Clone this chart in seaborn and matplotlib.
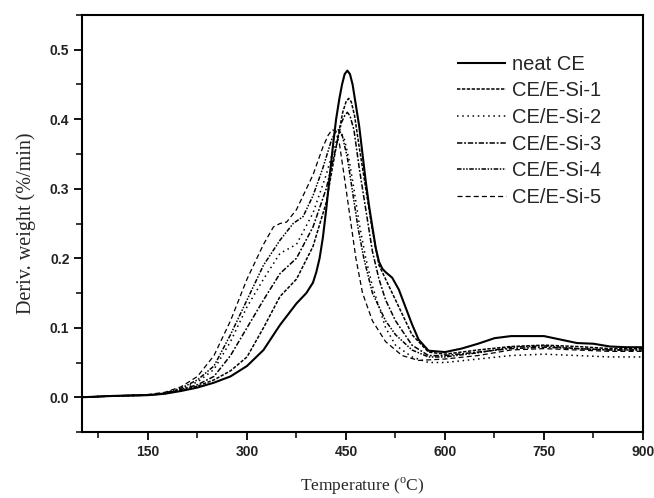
import matplotlib
matplotlib.use("Agg")
import matplotlib.pyplot as plt
import seaborn as sns
import pandas as pd
from matplotlib.ticker import MultipleLocator

sns.set_theme(style="ticks")
plt.rcParams['font.family'] = ['Liberation Sans', 'DejaVu Sans']

# ---- data ----
neat_T = [50, 100, 150, 175, 200, 225, 250, 275, 300, 325, 350, 375, 390, 400, 405, 410, 415, 420,
          425, 430, 435, 440, 444, 448, 452, 456, 460, 465, 470, 475, 480, 485, 490, 495, 500, 505,
          510, 520, 530, 540, 550, 560, 575, 600, 625, 650, 675, 700, 725, 750, 775, 800, 825, 850,
          875, 900]
neat_v = [0.0, 0.002, 0.003, 0.005, 0.009, 0.014, 0.021, 0.03, 0.045, 0.068, 0.104, 0.135, 0.15,
          0.165, 0.18, 0.2, 0.23, 0.27, 0.315, 0.36, 0.4, 0.43, 0.45, 0.465, 0.47, 0.465, 0.45, 0.42,
          0.39, 0.35, 0.31, 0.275, 0.245, 0.215, 0.195, 0.185, 0.18, 0.172, 0.155, 0.13, 0.105,
          0.083, 0.067, 0.065, 0.07, 0.077, 0.085, 0.088, 0.088, 0.088, 0.083, 0.078, 0.077, 0.073,
          0.072, 0.072]

si1_T = [50, 100, 150, 175, 200, 225, 250, 275, 300, 325, 350, 375, 400, 420, 435, 445, 450, 454,
         458, 463, 470, 480, 490, 500, 510, 525, 550, 575, 600, 650, 700, 750, 800, 850, 900]
si1_v = [0.0, 0.002, 0.003, 0.005, 0.01, 0.016, 0.025, 0.038, 0.058, 0.1, 0.145, 0.17, 0.217, 0.28,
         0.36, 0.41, 0.425, 0.43, 0.425, 0.405, 0.36, 0.3, 0.24, 0.19, 0.17, 0.14, 0.09, 0.065,
         0.062, 0.068, 0.073, 0.075, 0.073, 0.07, 0.07]

si2_T = [50, 100, 150, 175, 200, 225, 250, 275, 300, 325, 350, 375, 400, 420, 432, 438, 443, 448,
         455, 462, 470, 480, 490, 500, 510, 525, 550, 575, 600, 650, 700, 750, 800, 850, 900]
si2_v = [0.0, 0.002, 0.003, 0.006, 0.012, 0.022, 0.04, 0.08, 0.13, 0.17, 0.207, 0.22, 0.265, 0.32,
         0.36, 0.375, 0.378, 0.37, 0.34, 0.3, 0.25, 0.2, 0.16, 0.13, 0.1, 0.075, 0.058, 0.05, 0.05,
         0.055, 0.06, 0.062, 0.06, 0.058, 0.058]

si3_T = [50, 100, 150, 175, 200, 225, 250, 275, 300, 325, 350, 375, 400, 420, 435, 443, 448, 452,
         456, 462, 470, 480, 490, 500, 510, 525, 550, 575, 600, 650, 700, 750, 800, 850, 900]
si3_v = [0.0, 0.002, 0.003, 0.005, 0.011, 0.018, 0.03, 0.06, 0.1, 0.14, 0.178, 0.2, 0.245, 0.3,
         0.36, 0.395, 0.405, 0.41, 0.405, 0.385, 0.33, 0.27, 0.21, 0.17, 0.14, 0.11, 0.075, 0.06,
         0.06, 0.065, 0.07, 0.072, 0.07, 0.068, 0.068]

si4_T = [50, 100, 150, 175, 200, 225, 250, 275, 300, 325, 350, 370, 385, 400, 415, 428, 434, 438,
         444, 452, 460, 468, 477, 490, 500, 510, 525, 550, 575, 600, 650, 700, 750, 800, 850, 900]
si4_v = [0.0, 0.002, 0.003, 0.006, 0.013, 0.025, 0.045, 0.09, 0.14, 0.19, 0.226, 0.25, 0.26, 0.29,
         0.33, 0.37, 0.382, 0.385, 0.378, 0.345, 0.295, 0.245, 0.2, 0.15, 0.13, 0.11, 0.09, 0.068,
         0.058, 0.058, 0.064, 0.072, 0.074, 0.07, 0.068, 0.068]

si5_T = [50, 100, 150, 175, 200, 225, 250, 275, 300, 325, 340, 350, 360, 375, 400, 415, 423, 429,
         434, 440, 447, 456, 465, 475, 490, 510, 535, 560, 600, 650, 700, 750, 800, 850, 900]
si5_v = [0.0, 0.002, 0.004, 0.007, 0.015, 0.03, 0.06, 0.11, 0.17, 0.22, 0.245, 0.25, 0.252, 0.27,
         0.32, 0.36, 0.377, 0.385, 0.383, 0.365, 0.32, 0.26, 0.2, 0.15, 0.11, 0.08, 0.06, 0.053,
         0.055, 0.06, 0.068, 0.07, 0.068, 0.066, 0.066]

series = [
    ("neat CE", neat_T, neat_v),
    ("CE/E-Si-1", si1_T, si1_v),
    ("CE/E-Si-2", si2_T, si2_v),
    ("CE/E-Si-3", si3_T, si3_v),
    ("CE/E-Si-4", si4_T, si4_v),
    ("CE/E-Si-5", si5_T, si5_v),
]
styles = {
    "neat CE": ((0, ()), 1.5),
    "CE/E-Si-1": ((0, (2.2, 1.0)), 1.1),
    "CE/E-Si-2": ((0, (1.0, 2.4)), 1.1),
    "CE/E-Si-3": ((0, (3.5, 1.2, 1.2, 1.2)), 1.1),
    "CE/E-Si-4": ((0, (3.0, 1.0, 1.0, 1.0, 1.0, 1.0)), 1.1),
    "CE/E-Si-5": ((0, (4.0, 2.5)), 0.9),
}

fig = plt.figure(figsize=(6.54, 4.98), dpi=100)
ax = fig.add_axes([82/654, 1 - 432/498, (643-82)/654, (432-15)/498])

for name, T, v in series:
    df = pd.DataFrame({"T": T, "v": v})
    ls, lw = styles[name]
    sns.lineplot(data=df, x="T", y="v", ax=ax, color="black", linestyle=ls, linewidth=lw,
                 label=name, sort=True)

ax.set_xlim(50, 900)
ax.set_ylim(-0.05, 0.55)
ax.xaxis.set_major_locator(MultipleLocator(150))
ax.xaxis.set_minor_locator(MultipleLocator(75))
ax.yaxis.set_major_locator(MultipleLocator(0.1))
ax.yaxis.set_minor_locator(MultipleLocator(0.05))
ax.set_xticks([150, 300, 450, 600, 750, 900])
ax.set_yticks([0.0, 0.1, 0.2, 0.3, 0.4, 0.5])
ax.set_yticklabels(["0.0", "0.1", "0.2", "0.3", "0.4", "0.5"])
ax.tick_params(which="major", direction="out", length=6, width=1.3, labelsize=10,
               top=False, right=False, pad=3, color="black")
ax.tick_params(which="minor", direction="out", length=4, width=1.1, top=False, right=False,
               color="black")
for lab in ax.get_xticklabels() + ax.get_yticklabels():
    lab.set_fontweight("bold")
    lab.set_color("#222222")
for sp in ax.spines.values():
    sp.set_linewidth(1.5)
    sp.set_color("black")

ax.set_xlabel("Temperature ($^{\\mathregular{o}}$C)", family=["Liberation Serif"], fontsize=12.5,
              labelpad=12)
ax.set_ylabel("Deriv. weight (%/min)", family=["Liberation Serif"], fontsize=14.5, labelpad=10)

leg = ax.legend(loc="upper left", bbox_to_anchor=(0.668, 0.905), frameon=False, fontsize=14.5,
                handlelength=2.45, handletextpad=0.3, labelspacing=0.38, borderaxespad=0,
                borderpad=0)

fig.savefig("out.png", dpi=100)
